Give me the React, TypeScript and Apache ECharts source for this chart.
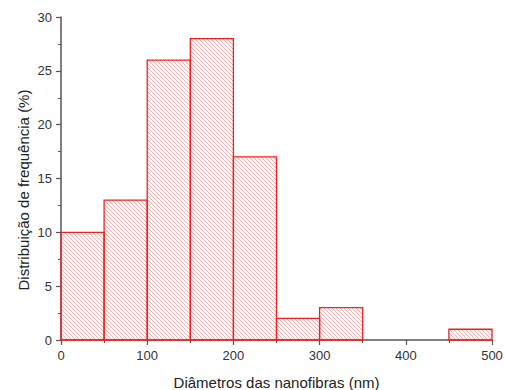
import React, { useEffect, useRef } from "react";
import * as echarts from "echarts";

const binStarts = [0, 50, 100, 150, 200, 250, 300, 350, 400, 450];
const binWidth = 50;
const frequencies = [10, 13, 26, 28, 17, 2, 3, 0, 0, 1];
const xTitle = "Diâmetros das nanofibras (nm)";
const yTitle = "Distribuição de frequência (%)";

function hatchLines(x0: number, y0: number, x1: number, y1: number, step: number) {
  const out: number[][][] = [];
  const cMin = y0 - x1;
  const cMax = y1 - x0;
  const start = Math.ceil(cMin / step) * step;
  for (let c = start; c <= cMax; c += step) {
    const ax = Math.max(x0, y0 - c);
    const bx = Math.min(x1, y1 - c);
    if (bx - ax <= 0.2) continue;
    out.push([
      [ax, ax + c],
      [bx, bx + c],
    ]);
  }
  return out;
}

export default function App() {
  const ref = useRef<HTMLDivElement>(null);
  useEffect(() => {
    if (!ref.current) return;
    const chart = echarts.init(ref.current, null, { renderer: "svg" });
    const data = binStarts.map((s, i) => [s, s + binWidth, frequencies[i]]);
    chart.setOption({
      animation: false,
      grid: { left: 61, right: 13, top: 17, bottom: 50, outerBoundsMode: "none", containLabel: false },
      xAxis: {
        type: "value",
        min: 0,
        max: 500,
        interval: 100,
        name: xTitle,
        nameLocation: "middle",
        nameGap: 35,
        nameTextStyle: { fontFamily: "Liberation Sans", fontSize: 15, color: "#222" },
        axisLine: { lineStyle: { color: "#555", width: 1.5 } },
        axisTick: { show: true, inside: false, length: 5, lineStyle: { color: "#555", width: 1.2 } },
        minorTick: { show: true, splitNumber: 2, length: 3, lineStyle: { color: "#555", width: 1 } },
        axisLabel: { fontFamily: "Liberation Sans", fontSize: 13, color: "#333", margin: 9 },
        splitLine: { show: false },
      },
      yAxis: {
        type: "value",
        min: 0,
        max: 30,
        interval: 5,
        axisLine: { show: true, lineStyle: { color: "#555", width: 1.5 } },
        axisTick: { show: true, inside: false, length: 5, lineStyle: { color: "#555", width: 1.2 } },
        minorTick: { show: true, splitNumber: 2, length: 3, lineStyle: { color: "#555", width: 1 } },
        axisLabel: { fontFamily: "Liberation Sans", fontSize: 13, color: "#333", margin: 9 },
        splitLine: { show: false },
      },
      graphic: [
        {
          type: "text",
          x: 23,
          y: 190,
          rotation: Math.PI / 2,
          style: {
            text: yTitle,
            fontFamily: "Liberation Sans",
            fontSize: 15,
            fill: "#222",
            align: "center",
            verticalAlign: "middle",
          },
        },
      ],
      series: [
        {
          type: "custom",
          data,
          encode: { x: [0, 1], y: 2 },
          clip: false,
          renderItem: (params: any, api: any) => {
            const v = api.value(2);
            if (!v) return null;
            const p0 = api.coord([api.value(0), 0]);
            const p1 = api.coord([api.value(1), v]);
            const x0 = p0[0], x1 = p1[0], y0 = p1[1], y1 = p0[1];
            const lines = hatchLines(x0, y0, x1, y1, 4).map((seg) => ({
              type: "line",
              shape: { x1: seg[0][0], y1: seg[0][1], x2: seg[1][0], y2: seg[1][1] },
              style: { stroke: "rgba(240,60,60,0.5)", lineWidth: 0.8 },
            }));
            return {
              type: "group",
              children: [
                ...lines,
                {
                  type: "rect",
                  shape: { x: x0, y: y0, width: x1 - x0, height: y1 - y0 },
                  style: { fill: "none", stroke: "#f02020", lineWidth: 1.3 },
                },
              ],
            };
          },
        },
      ],
    });
    return () => chart.dispose();
  }, []);
  return (
    <div
      ref={ref}
      style={{ position: "fixed", left: 0, top: 0, width: 505, height: 390, background: "#fff" }}
    />
  );
}
